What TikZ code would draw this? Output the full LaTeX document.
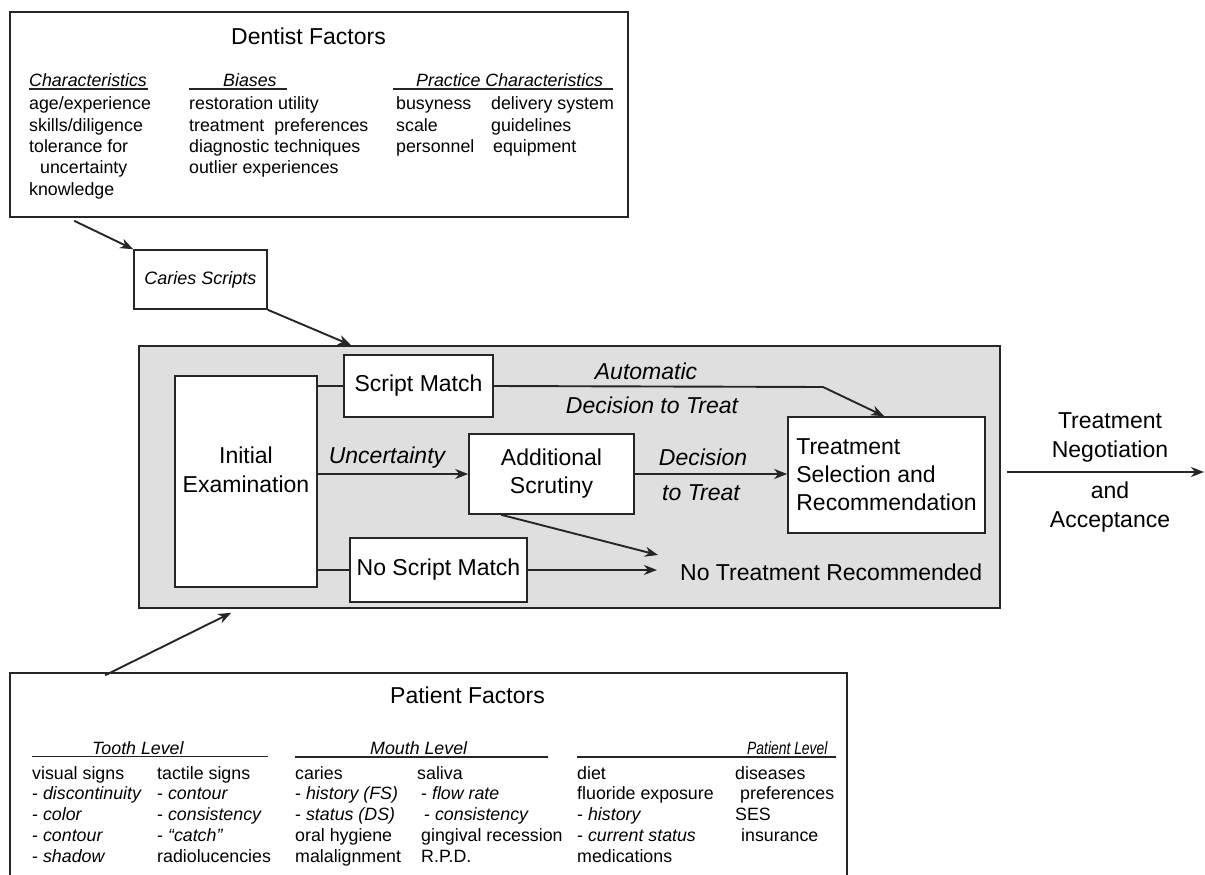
\documentclass[tikz,border=0pt]{standalone}
\usepackage{fontspec}
\usepackage{graphicx}
\setmainfont{Liberation Sans}
\usetikzlibrary{arrows.meta,calc}
\begin{document}
\begin{tikzpicture}[x=1pt,y=-1pt,
  boxs/.style={draw=black!85, line width=1.6pt, fill=white, inner sep=0pt, font=\fontsize{23}{28}\selectfont},
  arr/.style={draw=black!85, line width=1.9pt, -{Stealth[length=13pt,width=10pt,inset=4pt]}},
  ln/.style={draw=black!85, line width=1.9pt},
  col/.style={inner sep=0pt, anchor=base west, font=\fontsize{17.8}{21}\selectfont},
  colhead/.style={inner sep=0pt, anchor=base west, font=\fontsize{17.8}{21}\selectfont\itshape},
  big/.style={inner sep=0pt, anchor=base, font=\fontsize{23}{29}\selectfont},
  bigit/.style={inner sep=0pt, anchor=base, font=\fontsize{23}{29}\selectfont\itshape},
  uline/.style={draw=black!85, line width=1.4pt}
]
\useasboundingbox (0,0) rectangle (1205,875);
\clip (0,0) rectangle (1205,875);
\fill[white] (0,0) rectangle (1205,875);

% ---------------- Dentist factors ----------------
\node[boxs, minimum width=618pt, minimum height=205pt] (dentist) at (319,114.5) {};
\node[big] (dtitle) at (308.5,45) {Dentist Factors};
\node[colhead] (hchar) at (29,87) {Characteristics};
\node[colhead] (hbias) at (223,87) {Biases};
\node[colhead] (hprac) at (416,87) {Practice Characteristics};
\draw[uline] (29,89) -- (148,89);
\draw[uline] (189,89) -- (287,89);
\draw[uline] (393,89) -- (613,89);
\foreach \t [count=\i] in {age/experience, skills/diligence, tolerance for, \kern11pt uncertainty, knowledge}
  \node[col] (ca\i) at (29,{110+21.25*(\i-1)}) {\t};
\foreach \t [count=\i] in {restoration utility, treatment\kern5pt\ preferences, diagnostic techniques, outlier experiences}
  \node[col] (cb\i) at (189,{110+21.25*(\i-1)}) {\t};
\foreach \t [count=\i] in {busyness, scale, personnel}
  \node[col] (cc\i) at (396,{110+21.25*(\i-1)}) {\t};
\foreach \t [count=\i] in {delivery system, guidelines, \kern2pt equipment}
  \node[col] (cd\i) at (491,{110+21.25*(\i-1)}) {\t};

% ---------------- Caries scripts ----------------
\node[boxs, minimum width=133pt, minimum height=59pt, font=\fontsize{18}{21}\selectfont\itshape] (caries) at (200.5,279.5) {Caries Scripts};

% ---------------- Gray process area ----------------
\node[draw=black!85, line width=1.6pt, fill=gray!25, inner sep=0pt, minimum width=861pt, minimum height=262pt] (gray) at (569.5,477) {};

\node[boxs, minimum width=142pt, minimum height=211pt] (init) at (246,481.5) {};
\node[big] (init1) at (246,463) {Initial};
\node[big] (init2) at (246,492) {Examination};

\node[boxs, minimum width=149pt, minimum height=62pt] (smatch) at (418.5,386) {Script Match};
\node[boxs, minimum width=165pt, minimum height=80pt, align=center] (addl) at (551.5,474) {Additional\\Scrutiny};
\node[boxs, minimum width=197pt, minimum height=116pt, align=left] (treat) at (886.5,475) {Treatment\\Selection and\\Recommendation};
\node[boxs, minimum width=177pt, minimum height=64pt] (nsmatch) at (438.5,570) {No Script Match};
\node[big, anchor=base west] (notreat) at (680,580) {No Treatment Recommended};

\coordinate (bend) at (823,387);
\coordinate (nt1) at (658,555);
\coordinate (nt2) at (657,571);
\coordinate (exit) at (1204,472);

% connectors inside
\draw[ln] (init.east |- smatch.west) -- (smatch.west);
\draw[arr] (smatch.east) -- (bend) -- ([xshift=97pt]treat.north west);
\node[bigit] (auto1) at (646,379) {Automatic};
\node[bigit] (auto2) at (652,413) {Decision to Treat};

\draw[arr] (init.east |- addl.west) -- (addl.west);
\node[bigit] (unc) at (387,463) {Uncertainty};

\draw[arr] (addl.east) -- (addl.east -| treat.west);
\node[bigit] (dec1) at (703,465) {Decision};
\node[bigit] (dec2) at (701,500) {to Treat};

\draw[ln] (init.east |- nsmatch.west) -- (nsmatch.west);
\draw[arr] (nsmatch.east) -- (nt2 |- nsmatch.east);
\draw[arr] ([xshift=33pt]addl.south west) -- (nt1);

% exit arrow
\draw[arr] ([xshift=6pt,yshift=5pt]gray.east) -- (exit);
\node[big] (neg1) at (1110,428) {Treatment};
\node[big] (neg2) at (1110,457) {Negotiation};
\node[big] (neg3) at (1110,498) {and};
\node[big] (neg4) at (1110,527) {Acceptance};

% arrows between blocks
\draw[arr] ([xshift=65pt,yshift=-3pt]dentist.south west) -- (caries.north west);
\draw[arr] (caries.south east) -- ([xshift=213pt]gray.north west);

% ---------------- Patient factors ----------------
\node[boxs, minimum width=837pt, minimum height=240pt] (patient) at (428.5,793) {};
\draw[arr] ([xshift=96pt,yshift=-3pt]patient.north west) -- ([xshift=93pt,yshift=-4pt]gray.south west);
\node[big] (ptitle) at (467.5,703) {Patient Factors};

\node[colhead] (htooth) at (92,754) {Tooth Level};
\node[colhead] (hmouth) at (370,754) {Mouth Level};
\node[colhead] (hpat) at (747,754) {\scalebox{0.78}[1]{Patient Level}};
\draw[uline] (32,756.5) -- (268,756.5);
\draw[uline] (295,757) -- (548,757);
\draw[uline] (577,757) -- (836,757);

\foreach \t [count=\i] in {visual signs, - \textit{discontinuity}, - \textit{color}, - \textit{contour}, - \textit{shadow}}
  \node[col] (ta\i) at (32,{779+20.75*(\i-1)}) {\t};
\foreach \t [count=\i] in {tactile signs, - \textit{contour}, - \textit{consistency}, - \textit{“catch”}, radiolucencies}
  \node[col] (tb\i) at (157,{779+20.75*(\i-1)}) {\t};
\foreach \t [count=\i] in {caries, - \textit{history (FS)}, - \textit{status (DS)}, oral hygiene, malalignment}
  \node[col] (ma\i) at (295,{779+20.75*(\i-1)}) {\t};
\foreach \t [count=\i] in {saliva, \kern4pt - \textit{flow rate}, \kern7pt - \textit{consistency}, \kern4pt gingival recession, \kern4pt R.P.D.}
  \node[col] (mb\i) at (417,{779+20.75*(\i-1)}) {\t};
\foreach \t [count=\i] in {diet, fluoride exposure, - \textit{history}, - \textit{current status}, medications}
  \node[col] (pa\i) at (577,{779+20.75*(\i-1)}) {\t};
\foreach \t [count=\i] in {diseases, \kern5pt preferences, SES, \kern6pt insurance}
  \node[col] (pb\i) at (735,{779+20.75*(\i-1)}) {\t};
\end{tikzpicture}
\end{document}
